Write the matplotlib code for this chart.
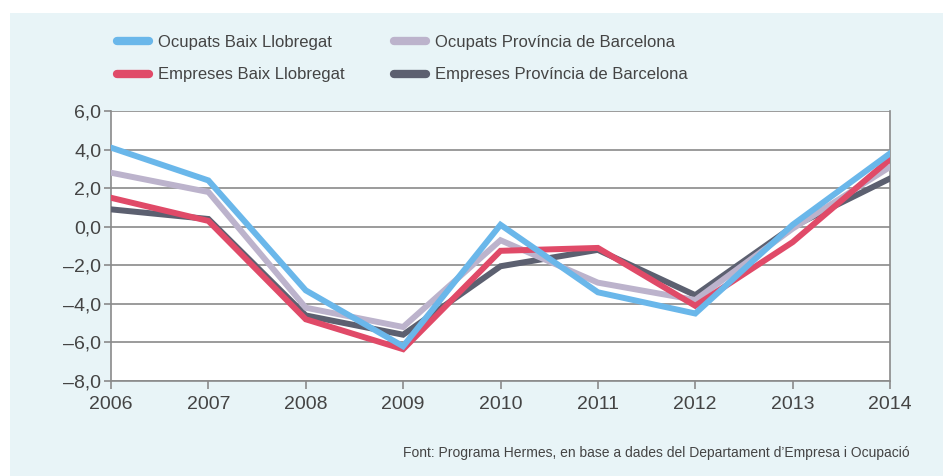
import matplotlib.pyplot as plt
from matplotlib.patches import Rectangle
from matplotlib.lines import Line2D

# Data (annual change, %)
years = [2006, 2007, 2008, 2009, 2010, 2011, 2012, 2013, 2014]
ocupats_baix = [4.1, 2.4, -3.3, -6.2, 0.1, -3.4, -4.5, 0.1, 3.8]
ocupats_prov = [2.8, 1.8, -4.2, -5.2, -0.7, -2.9, -3.8, -0.1, 3.1]
empreses_baix = [1.5, 0.3, -4.8, -6.35, -1.25, -1.1, -4.1, -0.8, 3.5]
empreses_prov = [0.9, 0.4, -4.6, -5.6, -2.05, -1.2, -3.55, 0.0, 2.5]
y_ticks = [6, 4, 2, 0, -2, -4, -6, -8]
source = "Font: Programa Hermes, en base a dades del Departament d\u2019Empresa i Ocupaci\u00f3"

plt.rcParams['font.family'] = ['Liberation Sans', 'DejaVu Sans']

BLUE = '#6ab7ea'
LILAC = '#bcb3cc'
RED = '#e04a68'
DARK = '#5c6070'
TEXT = '#444444'
GRID = '#8a8a8a'

fig = plt.figure(figsize=(9.43, 4.76), dpi=100)
fig.patch.set_facecolor('white')
# light blue panel behind everything
fig.patches.append(Rectangle((10 / 943, 0), 1, 1 - 13 / 476, transform=fig.transFigure,
                             facecolor='#e8f4f7', edgecolor='none', zorder=-10))

ax = fig.add_axes([111 / 943, 1 - 381 / 476, (890 - 111) / 943, (381 - 111) / 476])
ax.set_facecolor('white')

series = [
    (empreses_prov, DARK),
    (ocupats_prov, LILAC),
    (empreses_baix, RED),
    (ocupats_baix, BLUE),
]
for vals, col in series:
    ax.plot(years, vals, color=col, linewidth=4.3, solid_joinstyle='miter', zorder=3)

ax.set_xlim(years[0], years[-1])
ax.set_ylim(-8, 6)
ax.set_xticks(years)
ax.set_xticklabels([str(y) for y in years])
ax.set_yticks(y_ticks)
ax.set_yticklabels([f"{v:.1f}".replace('.', ',').replace('-', '\u2013') for v in y_ticks])
ax.grid(axis='y', color=GRID, linewidth=1.2)
ax.set_axisbelow(True)
for side in ['left', 'bottom', 'right']:
    ax.spines[side].set_color(GRID)
    ax.spines[side].set_linewidth(1.2)
ax.spines['top'].set_visible(False)
ax.tick_params(axis='both', colors=GRID, labelcolor=TEXT, labelsize=14, length=6, width=1.2)
ax.tick_params(axis='x', pad=5)
ax.tick_params(axis='y', pad=2, length=5)

# legend in two rows of two (filled column by column)
handles = [Line2D([], [], color=BLUE, linewidth=6, solid_capstyle='round'),
           Line2D([], [], color=RED, linewidth=6, solid_capstyle='round'),
           Line2D([], [], color=LILAC, linewidth=6, solid_capstyle='round'),
           Line2D([], [], color=DARK, linewidth=6, solid_capstyle='round')]
labels = ['Ocupats Baix Llobregat', 'Empreses Baix Llobregat',
          'Ocupats Prov\u00edncia de Barcelona', 'Empreses Prov\u00edncia de Barcelona']
leg = fig.legend(handles, labels, ncol=2, loc='upper left',
                 bbox_to_anchor=(102 / 943, 1 - 20 / 476), frameon=False,
                 fontsize=12, labelcolor=TEXT, handlelength=1.9, handletextpad=0.55,
                 columnspacing=3.0, labelspacing=1.05)

fig.text(910 / 943, 1 - 453 / 476, source, ha='right', va='center', fontsize=10, color=TEXT)

fig.savefig('out.png', dpi=100)
